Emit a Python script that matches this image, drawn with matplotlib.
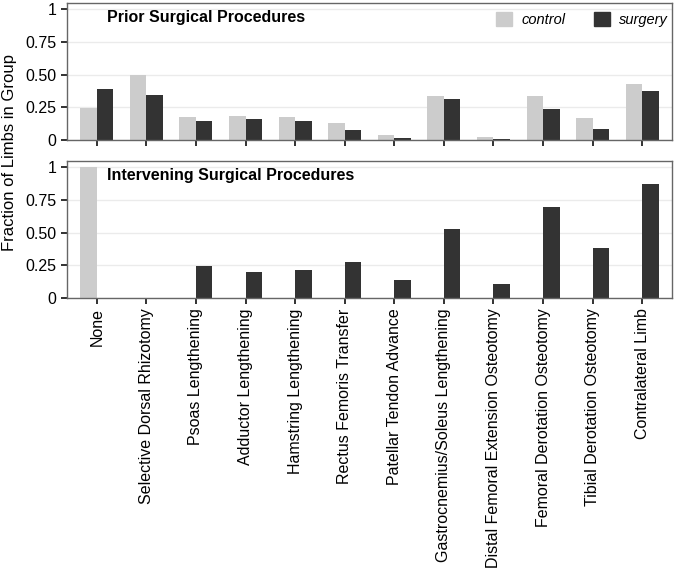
import numpy as np
import matplotlib
matplotlib.use("Agg")
import matplotlib.pyplot as plt
from matplotlib.patches import Patch

plt.rcParams['font.family'] = ['Liberation Sans', 'DejaVu Sans']

# Data
procedures = ["None", "Selective Dorsal Rhizotomy", "Psoas Lengthening",
              "Adductor Lengthening", "Hamstring Lengthening",
              "Rectus Femoris Transfer", "Patellar Tendon Advance",
              "Gastrocnemius/Soleus Lengthening",
              "Distal Femoral Extension Osteotomy",
              "Femoral Derotation Osteotomy", "Tibial Derotation Osteotomy",
              "Contralateral Limb"]
prior_control = [0.247, 0.496, 0.173, 0.186, 0.173, 0.127, 0.038, 0.336, 0.023, 0.338, 0.170, 0.430]
prior_surgery = [0.390, 0.340, 0.142, 0.158, 0.142, 0.074, 0.015, 0.313, 0.008, 0.234, 0.087, 0.377]
interv_control = [1.0, 0, 0, 0, 0, 0, 0, 0, 0, 0, 0, 0]
interv_surgery = [0, 0, 0.242, 0.196, 0.214, 0.272, 0.140, 0.527, 0.109, 0.695, 0.382, 0.870]

c_control = "#cccccc"
c_surgery = "#333333"
W, H = 675, 570


def style_axis(ax, title):
    x = np.arange(len(procedures))
    ax.set_xlim(-0.6, len(procedures) - 0.4)
    ax.set_ylim(0, 1.046)
    ax.set_yticks([0, 0.25, 0.5, 0.75, 1])
    ax.set_yticklabels(["0", "0.25", "0.50", "0.75", "1"], fontsize=11.5)
    ax.set_xticks(x)
    ax.grid(axis='y', color="#ebebeb", linewidth=1)
    ax.set_axisbelow(True)
    for s in ax.spines.values():
        s.set_color("#666666")
        s.set_linewidth(1)
    ax.tick_params(axis='both', length=4, width=1.3, color="#222222")
    ax.text(0.2, 0.935, title, fontsize=11.5, fontweight='bold', va='center', ha='left')


def main():
    fig = plt.figure(figsize=(W / 100, H / 100), dpi=100)
    ax1 = fig.add_axes([67 / W, 1 - 140 / H, 605 / W, 137 / H])
    ax2 = fig.add_axes([67 / W, 1 - 298 / H, 605 / W, 137 / H])

    x = np.arange(len(procedures))
    w = 0.333
    ax1.bar(x - w, prior_control, width=w, align='edge', color=c_control)
    ax1.bar(x, prior_surgery, width=w, align='edge', color=c_surgery)
    ax2.bar(x - w, interv_control, width=w, align='edge', color=c_control)
    ax2.bar(x, interv_surgery, width=w, align='edge', color=c_surgery)

    style_axis(ax1, "Prior Surgical Procedures")
    style_axis(ax2, "Intervening Surgical Procedures")
    ax1.set_xticklabels([])
    ax2.set_xticklabels(procedures, rotation=90, fontsize=11.5)

    handles = [Patch(color=c_control, label="control"),
               Patch(color=c_surgery, label="surgery")]
    ax1.legend(handles=handles, loc='upper right', ncol=2, frameon=False,
               prop={'style': 'italic', 'size': 10.5}, handlelength=1.1,
               handleheight=1.1, columnspacing=2.0, handletextpad=0.6,
               bbox_to_anchor=(1.003, 0.98), borderaxespad=0.0)

    fig.text(10 / W, 1 - 153 / H, "Fraction of Limbs in Group", rotation=90,
             va='center', ha='center', fontsize=12)

    plt.savefig("out.png", dpi=100)


if __name__ == "__main__":
    main()
